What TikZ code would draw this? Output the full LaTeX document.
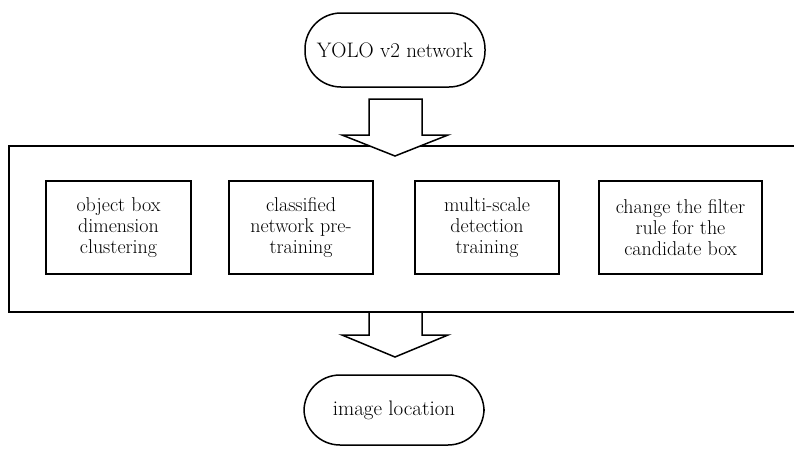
\documentclass[tikz,border=0pt]{standalone}
\begin{document}
\begin{tikzpicture}[x=1pt, y=-1pt, line width=1.5pt,
  terminal/.style={draw, rounded corners=36pt, minimum width=180pt, minimum height=74pt, inner sep=0pt, font=\fontsize{21}{22}\selectfont},
  stepbox/.style={draw, minimum height=93pt, inner sep=2pt, align=center, font=\fontsize{20}{21}\selectfont}]
\useasboundingbox (0,0) rectangle (794,450);

\node (start) at (395,50) [terminal] {YOLO v2 network};
\node (finish) at (394,410) [terminal, minimum height=70pt] {image location};

% frame round the four steps, cut off at the right edge
\draw (794,146) -- (9,146) -- (9,312) -- (794,312);

\node (s1) at (118.5,227.5) [stepbox, minimum width=145pt] {object box\\dimension\\clustering};
\node (s2) at (301,227.5) [stepbox, minimum width=144pt] {classified\\network pre-\\training};
\node (s3) at (487,227.5) [stepbox, minimum width=144pt] {multi-scale\\detection\\training};
\node (s4) at (680.5,227.5) [stepbox, minimum width=163pt] {change the filter\\rule for the\\candidate box};

% block arrows
\draw[fill=white] (369,99) -- (422,99) -- (422,135) -- (448,135) -- (395,156) -- (342,135) -- (369,135) -- cycle;
\draw[fill=white] (369,312) -- (422,312) -- (422,335) -- (448,335) -- (395,357) -- (342,335) -- (369,335) -- cycle;
\end{tikzpicture}
\end{document}
